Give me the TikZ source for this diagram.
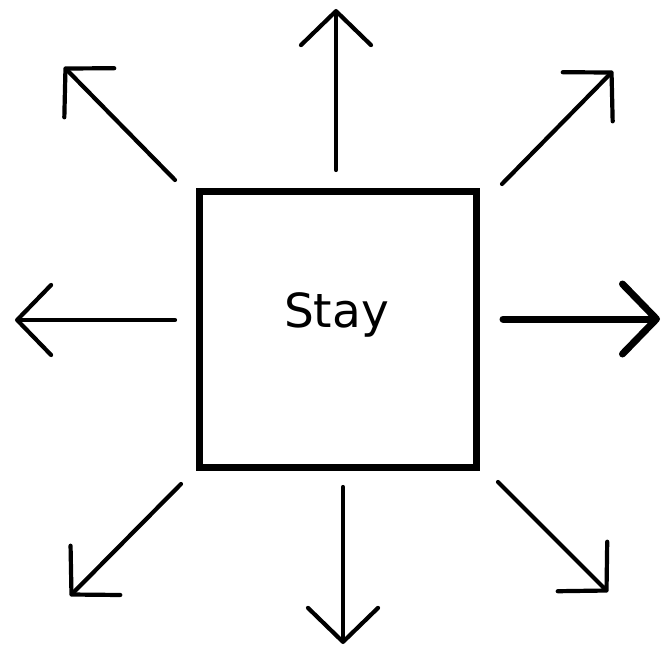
\documentclass[tikz,border=0pt]{standalone}
\usepackage{fontspec}
\setmainfont{DejaVu Sans}
\usetikzlibrary{arrows.meta}
\begin{document}
\begin{tikzpicture}[x=1pt,y=-1pt,
  dir/.style={line width=4.2pt, line cap=round, line join=round,
    -{Straight Barb[length=34pt,width=70pt,round]}},
  boxstyle/.style={draw, line width=7pt, minimum width=276.5pt, minimum height=276pt, inner sep=0pt}]
\useasboundingbox (0,0) rectangle (665,653);
\node[boxstyle] (box) at (337.75,329.5) {};
\node[font=\fontsize{47}{52}\selectfont, anchor=base] (stay) at (336.5,327.5) {Stay};
% tails and tips
\coordinate (upT) at (336,170); \coordinate (upH) at (336,9);
\coordinate (ulT) at (175,180); \coordinate (ulH) at (64,67);
\coordinate (urT) at (502,184); \coordinate (urH) at (613,71);
\coordinate (lT) at (175,320);  \coordinate (lH) at (15,320);
\coordinate (rT) at (503,319);  \coordinate (rH) at (660,319);
\coordinate (llT) at (181,484); \coordinate (llH) at (70,596);
\coordinate (dT) at (343,487);  \coordinate (dH) at (343,644);
\coordinate (lrT) at (498,482); \coordinate (lrH) at (608,592);
\draw[dir] (upT) -- (upH);
\draw[dir] (ulT) -- (ulH);
\draw[dir] (urT) -- (urH);
\draw[dir] (lT) -- (lH);
\draw[dir, line width=7pt] (rT) -- (rH);
\draw[dir] (llT) -- (llH);
\draw[dir] (dT) -- (dH);
\draw[dir] (lrT) -- (lrH);
\end{tikzpicture}
\end{document}
